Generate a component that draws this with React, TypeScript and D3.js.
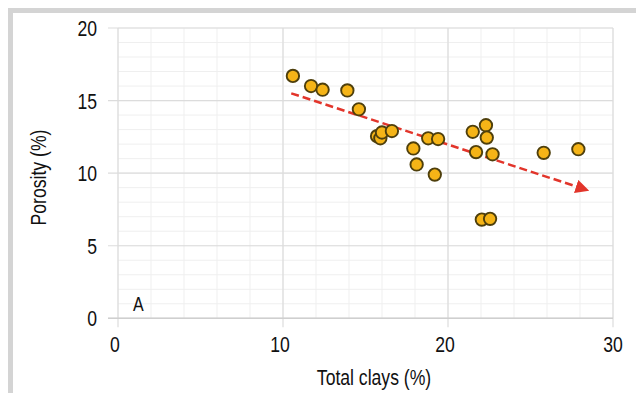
import React from "react";
import * as d3 from "d3";

const clays = [10.6, 11.7, 12.4, 13.9, 14.6, 15.7, 15.9, 16.0, 16.6, 17.9, 18.1, 18.8, 19.4, 19.2, 21.5, 22.3, 22.35, 21.7, 22.7, 25.8, 27.9, 22.05, 22.55];
const porosity = [16.7, 16.0, 15.75, 15.7, 14.4, 12.55, 12.4, 12.8, 12.9, 11.7, 10.6, 12.4, 12.35, 9.9, 12.85, 13.3, 12.45, 11.45, 11.3, 11.4, 11.65, 6.8, 6.85];
const trendX = [10.5, 28.4];
const trendY = [15.5, 8.85];
const xTicks = [0, 10, 20, 30];
const yTicks = [0, 5, 10, 15, 20];
const xMinor = d3.range(0, 31, 2);
const yMinor = d3.range(0, 21, 1);

const W = 636, H = 393;
const FONT = "'Liberation Sans', Arial, sans-serif";
const SX = 0.8;

function Txt({ x, y, rot = 0, anchor = "start", size = 22, children }: any) {
  return (
    <text
      transform={`translate(${x},${y}) rotate(${rot}) scale(${SX},1)`}
      textAnchor={anchor}
      fontFamily={FONT}
      fontSize={size}
      fill="#111"
    >
      {children}
    </text>
  );
}

export default function App() {
  const x = d3.scaleLinear().domain([0, 30]).range([118, 613]);
  const y = d3.scaleLinear().domain([0, 20]).range([318.3, 28]);
  const pts = clays.map((c, i) => ({ c, p: porosity[i] }));
  return (
    <svg width={W} height={H} style={{ position: "absolute", left: 0, top: 0, background: "#fff" }}>
      <defs>
        <marker id="arr" viewBox="0 0 10 10" refX="8" refY="5" markerWidth="5.5" markerHeight="5.5" orient="auto" markerUnits="strokeWidth">
          <path d="M0,0 L10,5 L0,10 z" fill="#e2352b" />
        </marker>
      </defs>
      <rect x={0} y={0} width={W} height={H} fill="#fff" />
      <rect x={8} y={8} width={W - 8} height={5} fill="#d4d4d4" />
      <rect x={8} y={8} width={5} height={H - 8} fill="#d4d4d4" />
      {xMinor.map((t) => (
        <line key={"xm" + t} x1={x(t)} x2={x(t)} y1={y(20)} y2={y(0)} stroke="#efefef" strokeWidth={1} />
      ))}
      {yMinor.map((t) => (
        <line key={"ym" + t} x1={x(0)} x2={x(30)} y1={y(t)} y2={y(t)} stroke="#efefef" strokeWidth={1} />
      ))}
      {xTicks.map((t) => (
        <line key={"xg" + t} x1={x(t)} x2={x(t)} y1={y(20)} y2={y(0) + 9} stroke="#dcdcdc" strokeWidth={1.2} />
      ))}
      {yTicks.map((t) => (
        <line key={"yg" + t} x1={x(0) - 10} x2={x(30)} y1={y(t)} y2={y(t)} stroke="#dcdcdc" strokeWidth={1.2} />
      ))}
      <line x1={x(0) - 10} x2={x(30)} y1={y(0)} y2={y(0)} stroke="#cfcfcf" strokeWidth={1.5} />
      {yTicks.map((t) => (
        <Txt key={"yl" + t} x={97} y={y(t) + 8} anchor="end">{t}</Txt>
      ))}
      {xTicks.map((t) => (
        <Txt key={"xl" + t} x={x(t) - (t === 30 ? 0 : 3)} y={352} anchor="middle">{t}</Txt>
      ))}
      <Txt x={374} y={385} anchor="middle">Total clays (%)</Txt>
      <Txt x={46} y={177.5} rot={-90} anchor="middle">Porosity (%)</Txt>
      <Txt x={133} y={311} size={20}>A</Txt>
      <line x1={x(trendX[0])} y1={y(trendY[0])} x2={x(trendX[1])} y2={y(trendY[1])} stroke="#e2352b" strokeWidth={2.5} strokeDasharray="8,4" markerEnd="url(#arr)" />
      {pts.map((d, i) => (
        <circle key={i} cx={x(d.c)} cy={y(d.p)} r={6.2} fill="#f5b417" stroke="#4e3f0c" strokeWidth={1.9} />
      ))}
    </svg>
  );
}
